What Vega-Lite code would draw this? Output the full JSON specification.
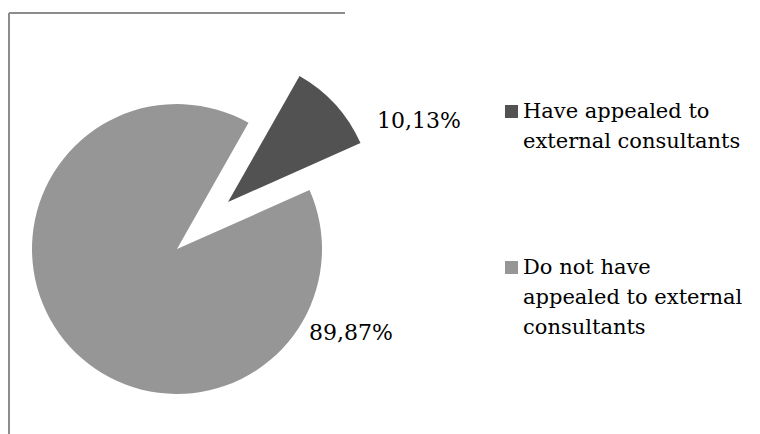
{
  "$schema": "https://vega.github.io/schema/vega-lite/v6.json",
  "width": 336,
  "height": 472,
  "autosize": {"type": "pad"},
  "padding": {"left": 9, "top": 13, "right": 0, "bottom": 0},
  "background": "white",
  "view": {"stroke": "#8c8c8c", "strokeWidth": 2, "strokeDash": [336, 808, 472, 0]},
  "config": {
    "font": "DejaVu Serif",
    "style": {"guide-label": {"lineHeight": 30}}
  },
  "data": {
    "values": [
      {"group": "Have appealed to external consultants", "share": 10.13, "label": "10,13%"},
      {"group": "Do not have appealed to external consultants", "share": 89.87, "label": "89,87%"}
    ]
  },
  "encoding": {
    "theta": {"field": "share", "type": "quantitative", "stack": true, "scale": {"range": [0.516, 6.799]}},
    "order": {"field": "share", "type": "quantitative", "sort": "ascending"}
  },
  "layer": [
    {
      "mark": {
        "type": "arc",
        "outerRadius": 145,
        "xOffset": {"expr": "datum.group == 'Have appealed to external consultants' ? 51 : 0"},
        "yOffset": {"expr": "datum.group == 'Have appealed to external consultants' ? -47 : 0"}
      },
      "encoding": {
        "color": {
          "field": "group",
          "type": "nominal",
          "scale": {
            "domain": ["Have appealed to external consultants", "Do not have appealed to external consultants"],
            "range": ["#525252", "#969696"]
          },
          "legend": {
            "orient": "none",
            "legendX": 492,
            "legendY": 88,
            "title": null,
            "padding": 0,
            "symbolType": "square",
            "symbolSize": 169,
            "symbolStrokeWidth": 0,
            "labelFont": "DejaVu Serif",
            "labelFontSize": 21,
            "labelColor": "#000000",
            "labelLimit": 0,
            "labelOffset": 1,
            "rowPadding": 104,
            "labelExpr": "datum.label == 'Have appealed to external consultants' ? ['Have appealed to', 'external consultants'] : ['Do not have', 'appealed to external', 'consultants']"
          }
        }
      }
    },
    {
      "mark": {
        "type": "text",
        "radius": 0,
        "align": "left",
        "baseline": "middle",
        "font": "DejaVu Serif",
        "fontSize": 22,
        "color": "#000000",
        "dx": {"expr": "datum.group == 'Have appealed to external consultants' ? 200 : 132"},
        "dy": {"expr": "datum.group == 'Have appealed to external consultants' ? -128 : 84"}
      },
      "encoding": {
        "text": {"field": "label", "type": "nominal"}
      }
    }
  ]
}
